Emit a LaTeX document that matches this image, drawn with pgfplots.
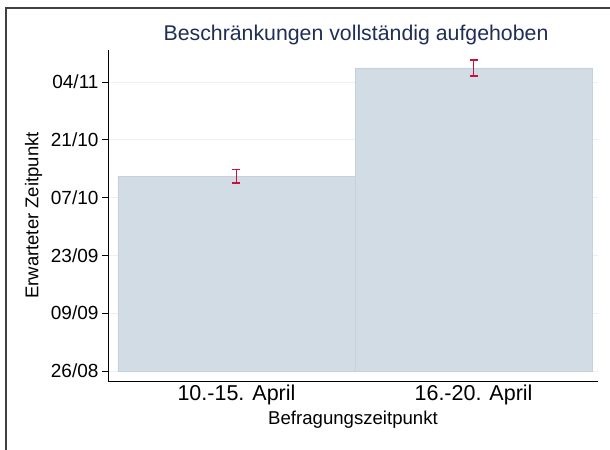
\documentclass[border=0pt]{standalone}
\usepackage{fontspec}
\setmainfont{Liberation Sans}
\usepackage{pgfplots}
\pgfplotsset{compat=1.18}
\definecolor{barfill}{RGB}{209,220,229}
\definecolor{baredge}{RGB}{196,210,222}
\definecolor{errred}{RGB}{204,16,60}
\definecolor{titleblue}{RGB}{32,46,86}
\definecolor{gridc}{RGB}{233,241,244}
\begin{document}
\begin{tikzpicture}
\useasboundingbox (0,0) rectangle (610bp,450bp);
\draw[line width=1.3bp, black!75] (6bp,0) -- (6bp,442bp) -- (610bp,442bp);
\node[font=\fontsize{21.3bp}{25bp}\selectfont, text=titleblue] at (356bp,415bp) {Beschränkungen vollständig aufgehoben};
\begin{axis}[
  at={(108bp,69bp)}, anchor=south west,
  scale only axis, width=490bp, height=331bp,
  xmin=-0.542, xmax=1.525, ymin=-2.42, ymax=77.74,
  axis x line*=bottom, axis y line*=left,
  axis line style={-, black, line width=0.8bp},
  xtick={0,1}, xticklabels={10.-15. April,16.-20. April},
  ytick={0,14,28,42,56,70}, yticklabels={26/08,09/09,23/09,07/10,21/10,04/11},
  ymajorgrids, grid style={gridc, line width=0.8bp},
  tick align=outside, major tick length=6bp,
  x tick style={draw=none},
  y tick style={black, line width=0.8bp},
  xticklabel style={font=\fontsize{21.5bp}{25bp}\selectfont, yshift=6bp},
  yticklabel style={font=\fontsize{19bp}{22bp}\selectfont},
  xlabel={Befragungszeitpunkt}, ylabel={Erwarteter Zeitpunkt},
  xlabel style={font=\fontsize{18.6bp}{22bp}\selectfont},
  ylabel style={font=\fontsize{18.5bp}{22bp}\selectfont, yshift=2bp},
]
\addplot[ybar, bar width=1, fill=barfill, draw=baredge, line width=0.6bp]
  coordinates {(0,47.2) (1,73.4)};
\addplot[color=errred, line width=1.6bp, only marks, mark=-, mark size=0pt, forget plot,
  error bars/.cd, y dir=both, y explicit,
  error bar style={color=errred, line width=1.6bp},
  error mark=-,
  error mark options={color=errred, line width=1.6bp, mark size=4bp, rotate=90}]
  coordinates {(0,47.2) +- (0,1.6) (1,73.4) +- (0,1.9)};
\end{axis}
\end{tikzpicture}
\end{document}
